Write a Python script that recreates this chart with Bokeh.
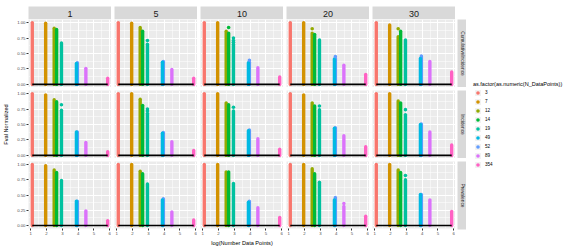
import math
from bokeh.plotting import figure
from bokeh.models import FixedTicker, Legend, LegendItem, ColumnDataSource, Range1d, NumeralTickFormatter
from bokeh.layouts import row, column
from bokeh.embed import file_html
from bokeh.resources import INLINE
from bokeh.core.properties import value

# ---------------- data ----------------
N_DataPoints = [3, 7, 12, 14, 19, 49, 52, 89, 354]
windows = ["1", "5", "10", "20", "30"]
measures = ["CumulativeIncidence", "Incidence", "Prevalence"]

# Fval Normalized per window (rows follow windows), columns follow N_DataPoints
fval_cumulative_incidence = [
    [1.00, 0.99, 0.91, 0.89, 0.67, 0.34, 0.35, 0.26, 0.10],
    [1.00, 0.99, 0.92, 0.86, 0.65, 0.36, 0.37, 0.24, 0.10],
    [1.00, 1.00, 0.86, 0.83, 0.65, 0.35, 0.36, 0.27, 0.12],
    [1.00, 1.00, 0.83, 0.81, 0.72, 0.41, 0.42, 0.31, 0.16],
    [1.00, 0.96, 0.77, 0.86, 0.72, 0.42, 0.46, 0.37, 0.20],
]
fval_incidence = [
    [1.00, 0.98, 0.90, 0.87, 0.73, 0.38, 0.38, 0.21, 0.06],
    [1.00, 1.00, 0.91, 0.81, 0.68, 0.36, 0.37, 0.22, 0.08],
    [1.00, 1.00, 0.85, 0.82, 0.72, 0.40, 0.41, 0.27, 0.10],
    [1.00, 0.98, 0.85, 0.80, 0.74, 0.44, 0.45, 0.32, 0.14],
    [1.00, 1.00, 0.88, 0.85, 0.66, 0.50, 0.51, 0.38, 0.17],
]
fval_prevalence = [
    [1.00, 0.98, 0.91, 0.87, 0.74, 0.40, 0.40, 0.24, 0.08],
    [1.00, 1.00, 0.89, 0.85, 0.68, 0.42, 0.44, 0.22, 0.09],
    [1.00, 1.00, 0.88, 0.88, 0.69, 0.38, 0.40, 0.29, 0.13],
    [1.00, 1.00, 0.93, 0.85, 0.71, 0.42, 0.46, 0.31, 0.15],
    [1.00, 1.00, 0.91, 0.87, 0.75, 0.51, 0.51, 0.42, 0.23],
]

# individual runs lying above the bars
extra_measure = [0, 0, 0, 0, 0, 0, 0, 0, 0, 1, 1, 1, 1, 1, 1, 2, 2]
extra_window = [1, 2, 2, 2, 2, 2, 3, 3, 4, 0, 1, 1, 2, 3, 4, 3, 4]
extra_n = [19, 14, 19, 19, 19, 52, 12, 52, 12, 19, 19, 19, 19, 19, 19, 89, 19]
extra_fval = [0.71, 0.92, 0.75, 0.71, 0.68, 0.39, 0.90, 0.45, 0.90,
              0.82, 0.75, 0.72, 0.78, 0.80, 0.74, 0.36, 0.82]

x_ticks = [1, 2, 3, 4, 5, 6]
x_minor = [1.5, 2.5, 3.5, 4.5, 5.5]
y_ticks = [0.0, 0.25, 0.5, 0.75, 1.0]
y_minor = [0.125, 0.375, 0.625, 0.875]

palette = ["#F8766D", "#D39200", "#93AA00", "#00BA38", "#00C19F",
           "#00B9E3", "#619CFF", "#DB72FB", "#FF61C3"]

all_fvals = [fval_cumulative_incidence, fval_incidence, fval_prevalence]

# drawing order: N=52 goes underneath N=49
draw_order = [0, 1, 2, 3, 4, 6, 5, 7, 8]

FONT = "Liberation Sans"
FW, FH = 83, 68
LEFT = 28
BOTTOM = 19
TOPPAD = 6
STRIP_H = 13
RSTRIP_W = 9

logN = [math.log(n) for n in N_DataPoints]
zeros = [0.0 for _ in N_DataPoints]


def panel(r, c):
    w = FW + (LEFT if c == 0 else 0)
    h = FH + (BOTTOM if r == 2 else 0)
    p = figure(width=w, height=h, output_backend="svg", toolbar_location=None,
               x_range=Range1d(0.86, 6.11), y_range=Range1d(-0.05, 1.05),
               x_axis_location="below" if r == 2 else None,
               y_axis_location="left" if c == 0 else None,
               min_border_left=LEFT if c == 0 else 0,
               min_border_bottom=BOTTOM if r == 2 else 0,
               min_border_top=0, min_border_right=0)
    p.background_fill_color = "#EBEBEB"
    p.border_fill_color = "white"
    p.outline_line_color = None
    p.xgrid.ticker = FixedTicker(ticks=x_ticks, minor_ticks=x_minor)
    p.ygrid.ticker = FixedTicker(ticks=y_ticks, minor_ticks=y_minor)
    for g in (p.xgrid, p.ygrid):
        g.grid_line_color = "white"
        g.grid_line_width = 1
        g.minor_grid_line_color = "white"
        g.minor_grid_line_width = 0.5
    for ax in p.axis:
        ax.axis_line_color = None
        ax.major_tick_line_color = "#333333"
        ax.major_tick_out = 2
        ax.major_tick_in = 0
        ax.minor_tick_line_color = None
        ax.major_label_text_font = FONT
        ax.major_label_text_font_size = "4.3px"
        ax.major_label_text_color = "#4D4D4D"
        ax.major_label_standoff = 1
        ax.axis_label_text_font = FONT
        ax.axis_label_text_font_size = "5.6px"
        ax.axis_label_text_font_style = "normal"
        ax.axis_label_text_color = "black"
        ax.axis_label_standoff = 2
    if c == 0:
        p.yaxis.ticker = FixedTicker(ticks=y_ticks)
        p.yaxis.formatter = NumeralTickFormatter(format="0.00")
        p.yaxis.axis_label_standoff = 5
        if r == 1:
            p.yaxis.axis_label = "Fval Normalized"
    if r == 2:
        p.xaxis.ticker = FixedTicker(ticks=x_ticks)
        if c == 2:
            p.xaxis.axis_label = "log(Number Data Points)"

    vals = all_fvals[r][c]
    src = ColumnDataSource(dict(x=[logN[i] for i in draw_order],
                                v=[vals[i] for i in draw_order],
                                c=[palette[i] for i in draw_order],
                                z=[zeros[i] for i in draw_order]))
    p.segment(x0="x", y0="z", x1="x", y1="v", line_color="c", line_width=3.4,
              line_cap="round", source=src)

    sel = [i for i in range(len(extra_n)) if extra_measure[i] == r and extra_window[i] == c]
    if sel:
        ex = [math.log(extra_n[i]) for i in sel]
        ey = [extra_fval[i] for i in sel]
        ec = [palette[N_DataPoints.index(extra_n[i])] for i in sel]
        p.scatter(x=ex, y=ey, fill_color=ec, line_color=None, size=3.6)

    p.line(x=logN, y=zeros, line_color="black", line_width=1.6)
    return p


def top_strip(c):
    w = FW + (LEFT if c == 0 else 0)
    p = figure(width=w, height=STRIP_H + TOPPAD, output_backend="svg", toolbar_location=None,
               x_range=Range1d(0, 1), y_range=Range1d(0, 1),
               x_axis_location=None, y_axis_location=None,
               min_border_left=LEFT if c == 0 else 0,
               min_border_right=0, min_border_top=TOPPAD, min_border_bottom=0)
    p.background_fill_color = "#D9D9D9"
    p.border_fill_color = "white"
    p.outline_line_color = None
    p.grid.visible = False
    p.text(x=[0.5], y=[0.45], text=[windows[c]], text_align="center", text_baseline="middle",
           text_font=value(FONT), text_font_size="9px", text_color="#1A1A1A")
    return p


def right_strip(r):
    h = FH + (BOTTOM if r == 2 else 0)
    p = figure(width=RSTRIP_W, height=h, output_backend="svg", toolbar_location=None,
               x_range=Range1d(0, 1), y_range=Range1d(0, 1),
               x_axis_location=None, y_axis_location=None,
               min_border_left=0, min_border_right=0, min_border_top=0,
               min_border_bottom=BOTTOM if r == 2 else 0)
    p.background_fill_color = "#D9D9D9"
    p.border_fill_color = "white"
    p.outline_line_color = None
    p.grid.visible = False
    p.text(x=[0.5], y=[0.5], text=[measures[r]], angle=-math.pi / 2,
           text_align="center", text_baseline="middle",
           text_font=value(FONT), text_font_size="4.8px", text_color="#1A1A1A")
    return p


strip_row = row(children=[top_strip(c) for c in range(5)], spacing=3)
panel_rows = []
for r in range(3):
    panels = row(children=[panel(r, c) for c in range(5)], spacing=3)
    panel_rows.append(row(children=[panels, right_strip(r)], spacing=2))
grid_col = column(children=[strip_row, column(children=panel_rows, spacing=3)], spacing=0)

# legend figure (its renderers sit outside the visible range)
LH = TOPPAD + STRIP_H + 3 * FH + 2 * 3 + BOTTOM
lf = figure(width=101, height=LH, output_backend="svg", toolbar_location=None,
            x_range=Range1d(-1, 0), y_range=Range1d(-1, 0),
            x_axis_location=None, y_axis_location=None,
            min_border_left=0, min_border_right=0, min_border_top=0, min_border_bottom=0)
lf.outline_line_color = None
lf.grid.visible = False
lf.background_fill_color = "white"
items = []
for i, n in enumerate(N_DataPoints):
    q = lf.quad(left=[logN[i]], right=[logN[i]], top=[1.0], bottom=[1.0],
                fill_color="#F2F2F2", line_color="white")
    s = lf.scatter(x=[logN[i]], y=[1.0], fill_color=palette[i], line_color=None)
    items.append(LegendItem(label=str(n), renderers=[q, s]))
leg = Legend(items=items, location=(5, 79),
             title="as.factor(as.numeric(N_DataPoints))",
             title_text_font=FONT, title_text_font_size="5.5px", title_text_font_style="normal",
             title_text_color="black", title_standoff=1,
             label_text_font=FONT, label_text_font_size="4.6px", label_text_color="black",
             glyph_width=9, glyph_height=9, label_height=9, label_standoff=3,
             spacing=0, padding=0, margin=0,
             border_line_color=None, background_fill_alpha=0)
lf.add_layout(leg, "center")

p = row(children=[grid_col, lf], spacing=2)

open("out.html", "w").write(file_html(p, INLINE))
